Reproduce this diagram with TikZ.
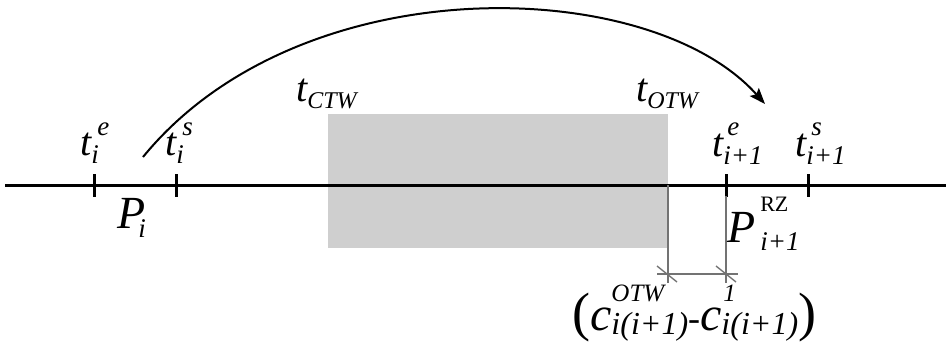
\documentclass[tikz,border=0pt]{standalone}
\usepackage{fontspec}
\setmainfont{Liberation Serif}
\usetikzlibrary{arrows.meta}
\newcommand\fs[1]{\fontsize{#1}{#1}\selectfont}
% base, supkern, supraise, sup, subkern, sublower, sub
\newcommand\mylab[7]{#1\makebox[0pt][l]{\hspace{#2}\raisebox{#3}{#4}}\hspace{#5}\raisebox{-#6}{#7}}
\tikzset{
  lab/.style={inner sep=0pt, anchor=base west},
  axis/.style={line width=3pt, black},
  tick/.style={line width=3pt, black},
  dim/.style={line width=1.4pt, draw=black!55},
  arc/.style={line width=2pt, -{Stealth[length=16pt,width=12pt,inset=3pt]}},
}
\begin{document}
\begin{tikzpicture}[x=1pt,y=-1pt]
\useasboundingbox (0,0) rectangle (946,343);
% window
\fill[black!19] (328,114) rectangle (668,248);
% axis
\coordinate (L) at (5,185);
\coordinate (R) at (946,185);
\draw[axis] (L) -- (R);
% ticks
\foreach \n/\x in {a/94,b/176,c/726,d/808}{
  \coordinate (\n top) at (\x,174);
  \coordinate (\n bot) at (\x,197);
  \draw[tick] (\n top) -- (\n bot);
}
% dimension lines
\coordinate (d1a) at (668,185);
\coordinate (d1b) at (668,283);
\coordinate (d2a) at (726,196);
\coordinate (d2b) at (726,283);
\coordinate (h1) at (657,274);
\coordinate (h2) at (738,274);
\draw[dim] (d1a) -- (d1b);
\draw[dim] (d2a) -- (d2b);
\draw[dim] (h1) -- (h2);
\coordinate (s1a) at (657,266); \coordinate (s1b) at (677,282);
\coordinate (s2a) at (716,266); \coordinate (s2b) at (736,282);
\draw[dim] (s1a) -- (s1b);
\draw[dim] (s2a) -- (s2b);
% arc
\coordinate (A0) at (143,157);
\coordinate (A1) at (765,104);
\draw[arc] (A0) .. controls (300,-35) and (650,-25) .. (A1);
% labels
\node[lab] (tie) at (80,155) {\fs{40}\itshape\mylab{t}{6pt}{20pt}{\fs{27}e}{0pt}{8pt}{\fs{27}i}};
\node[lab] (tis) at (165,155) {\fs{40}\itshape\mylab{t}{6pt}{20pt}{\fs{27}s}{0pt}{8pt}{\fs{27}i}};
\node[lab] (Pi) at (117,228) {\fs{46}\itshape\mylab{P}{0pt}{0pt}{}{-7pt}{9pt}{\fs{27}i}};
\node[lab] (tctw) at (296,101) {\fs{40}\itshape\mylab{t}{0pt}{0pt}{}{0pt}{7pt}{\fs{24}CTW}};
\node[lab] (totw) at (636,101) {\fs{40}\itshape\mylab{t}{0pt}{0pt}{}{0pt}{7pt}{\fs{24}OTW}};
\node[lab] (tie1) at (712,156) {\fs{40}\itshape\mylab{t}{4pt}{21pt}{\fs{27}e}{0pt}{8pt}{\fs{27}i+1}};
\node[lab] (tis1) at (795,156) {\fs{40}\itshape\mylab{t}{5pt}{21pt}{\fs{27}s}{0pt}{8pt}{\fs{27}i+1}};
\node[lab] (Pi1) at (727,242) {\fs{46}\itshape\mylab{P}{5pt}{31pt}{\fs{22}\upshape RZ}{5pt}{8pt}{\fs{27}i+1}};
\node[lab] (cexp) at (572,330) {{\fs{54}(}{\fs{48}\itshape\mylab{c}{0pt}{29pt}{\fs{25}OTW}{0pt}{4pt}{\fs{32}i(i+1)}}{\fs{36}-}{\fs{48}\itshape\mylab{c}{2pt}{29pt}{\fs{25}1}{0pt}{4pt}{\fs{32}i(i+1)}}{\fs{54})}};
\end{tikzpicture}
\end{document}
